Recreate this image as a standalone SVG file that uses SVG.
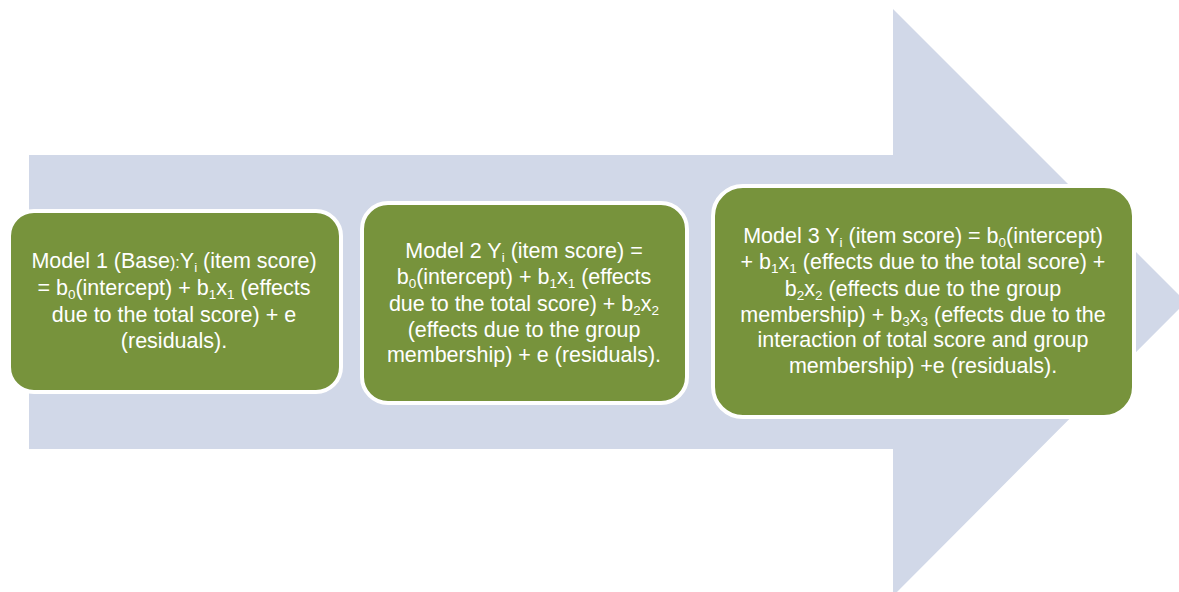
<svg xmlns="http://www.w3.org/2000/svg" width="1179" height="592" viewBox="0 0 1179 592">
<style>
.box{fill:#77933C;stroke:#FFFFFF;stroke-width:4}
.t{font-family:"Liberation Sans",Arial,sans-serif;font-size:21.5px;fill:#FFFFFF;text-anchor:middle}
.sub{font-size:13.5px;baseline-shift:-4px}
.sm{font-size:16px}
</style>
<rect width="1179" height="592" fill="#FFFFFF"/>
<g id="arrow">
<path d="M29,155 H893 V9 L1186,302 L893,596 V449 H29 Z" fill="#D1D8E8"/>
</g>
<g id="model1">
<rect class="box" x="9" y="211" width="332" height="181" rx="25"/>
<text class="t" x="174" y="268">Model 1 (Base<tspan class="sm">):</tspan>Y<tspan class="sub">i</tspan> (item score)</text>
<text class="t" x="174" y="295">= b<tspan class="sub">0</tspan>(intercept) + b<tspan class="sub">1</tspan>x<tspan class="sub">1</tspan> (effects</text>
<text class="t" x="174" y="322">due to the total score) + e</text>
<text class="t" x="174" y="348">(residuals).</text>
</g>
<g id="model2">
<rect class="box" x="362" y="203" width="325" height="200" rx="26"/>
<text class="t" x="524" y="258">Model 2 Y<tspan class="sub">i</tspan> (item score) =</text>
<text class="t" x="524" y="284">b<tspan class="sub">0</tspan>(intercept) + b<tspan class="sub">1</tspan>x<tspan class="sub">1</tspan> (effects</text>
<text class="t" x="524" y="311">due to the total score) + b<tspan class="sub">2</tspan>x<tspan class="sub">2</tspan></text>
<text class="t" x="524" y="337">(effects due to the group</text>
<text class="t" x="524" y="362">membership) + e (residuals).</text>
</g>
<g id="model3">
<rect class="box" x="713" y="186" width="421" height="231" rx="30"/>
<text class="t" x="923" y="243">Model 3 Y<tspan class="sub">i</tspan> (item score) = b<tspan class="sub">0</tspan>(intercept)</text>
<text class="t" x="923" y="269">+ b<tspan class="sub">1</tspan>x<tspan class="sub">1</tspan> (effects due to the total score) +</text>
<text class="t" x="923" y="296">b<tspan class="sub">2</tspan>x<tspan class="sub">2</tspan> (effects due to the group</text>
<text class="t" x="923" y="322">membership) + b<tspan class="sub">3</tspan>x<tspan class="sub">3</tspan> (effects due to the</text>
<text class="t" x="923" y="347">interaction of total score and group</text>
<text class="t" x="923" y="373">membership) +e (residuals).</text>
</g>
<g id="connectors"></g>
</svg>
